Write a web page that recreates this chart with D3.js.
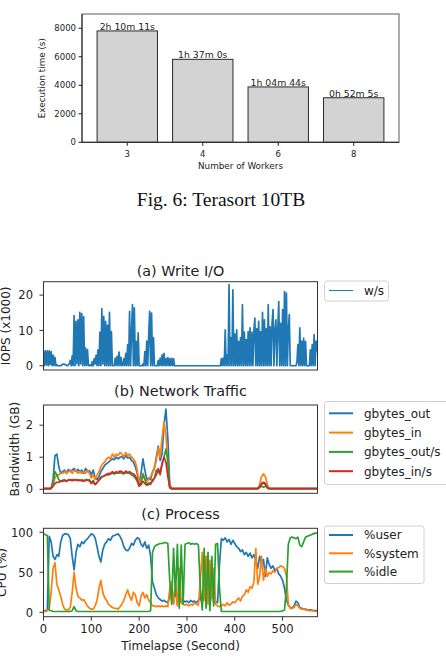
<!DOCTYPE html>
<html>
<head>
<meta charset="utf-8">
<script src="https://cdn.jsdelivr.net/npm/d3@7"></script>
<style>
  body { margin: 0; background: #fff; }
  svg { display: block; }
  text { font-family: "DejaVu Sans", sans-serif; fill: #222; }
</style>
</head>
<body>
<svg id="fig" width="446" height="662"></svg>
<script>
// ---- Fig. 6 bar chart ----
const workers = ["3", "4", "6", "8"];
const execSeconds = [7811, 5820, 3884, 3125];
const execLabels = ["2h 10m 11s", "1h 37m 0s", "1h 04m 44s", "0h 52m 5s"];
const execTicks = [0, 2000, 4000, 6000, 8000];

// ---- (a) write I/O, one sample every 2 s ----
const WRITE_STEP = 2;
const writeIops = [
  4.2, 0, 4.2, 0.2, 4.2, 0, 4.2, 0.3, 4.0, 0,
  3.0, 0, 2.4, 0, 0.3, 0, 0, 0, 0, 0.2,
  0.4, 0.5, 0.4, 0.3, 0.1, 0, 0.2, 0.6, 1.5, 0,
  2.8, 0, 14.2, 0, 12.6, 0.5, 13.0, 0, 15.1, 0.5,
  14.8, 0, 13.9, 0, 5.0, 0, 4.6, 0, 0, 0.3,
  0, 1.2, 0, 2.0, 0.5, 3.0, 0, 4.5, 0, 9.5,
  0, 16.2, 0.5, 14.0, 0, 12.6, 0, 11.5, 0, 15.1,
  0, 9.7, 0, 0, 0, 2.2, 0, 2.7, 0, 3.9,
  0, 2.4, 0, 0.2, 2.0, 0, 3.5, 0, 6.0, 0,
  15.4, 0, 9.0, 17.3, 0, 16.4, 0, 6.9, 0, 9.3,
  0, 0, 0, 0, 0.5, 0, 4.0, 0, 7.0, 0,
  8.5, 15.4, 0, 14.9, 0, 8.0, 0, 0, 0, 0,
  1.5, 0, 2.2, 0, 3.1, 0, 3.5, 0, 2.0, 0,
  2.3, 0, 2.0, 0, 2.1, 0, 2.0, 0, 0, 0,
  0, 0, 0, 0, 0, 0, 0, 0, 0, 0,
  0, 0, 0, 0, 0, 0, 0, 0, 0, 0,
  0, 0, 0, 0, 0, 0, 0, 0, 0, 0,
  0, 0, 0, 0, 0, 0, 0, 0, 0, 0,
  0, 0, 0, 0, 0, 0, 2.0, 0, 2.2, 0,
  10.2, 0, 3.0, 0, 23.0, 0, 8.0, 0, 21.5, 0,
  9.0, 0, 10.2, 0, 6.9, 0, 8.0, 0, 17.3, 0,
  9.5, 0, 7.4, 0, 9.7, 0, 10.7, 0, 9.5, 0,
  10.0, 13.5, 0, 10.5, 0, 12.6, 0, 9.7, 0, 15.1,
  0, 13.0, 0, 10.5, 0, 17.3, 0, 11.0, 0, 12.0,
  15.9, 0, 10.0, 13.0, 0, 10.5, 18.2, 0, 12.0, 0,
  15.9, 0, 21.0, 0, 20.6, 0, 10.0, 14.5, 0, 0,
  0, 0, 0, 0, 0, 1.0, 6.0, 0, 10.7, 0,
  7.0, 0, 7.8, 0, 6.9, 0, 0, 0, 0, 4.5,
  0, 6.0, 0, 8.8, 0, 7.0, 4.0
];

// ---- (b) network traffic, one sample every 4 s ----
const NET_STEP = 4;
const gbytesOut = [
  0.02, 0.02, 0.02, 0.02, 0.03, 0.3, 1.05, 1.1, 0.7, 0.5,
  0.55, 0.6, 0.5, 0.62, 0.55, 0.6, 0.65, 0.55, 0.62, 0.55,
  0.6, 0.5, 0.65, 0.55, 0.58, 0.45, 0.6, 0.35, 0.3, 0.4,
  0.55, 0.65, 0.75, 0.8, 0.85, 0.9, 0.95, 0.92, 1.0, 0.95,
  1.0, 1.02, 0.95, 1.05, 0.98, 1.0, 0.9, 0.85, 0.7, 0.5,
  0.15, 0.5, 0.95, 0.6, 0.3, 0.35, 0.3, 0.55, 0.65, 1.0,
  1.35, 0.9, 1.1, 2.0, 2.5, 1.6, 0.15, 0.02, 0.02, 0.02,
  0.02, 0.02, 0.02, 0.02, 0.02, 0.02, 0.02, 0.02, 0.02, 0.02,
  0.02, 0.02, 0.02, 0.02, 0.02, 0.02, 0.02, 0.02, 0.02, 0.02,
  0.02, 0.02, 0.02, 0.02, 0.02, 0.02, 0.02, 0.02, 0.02, 0.02,
  0.02, 0.02, 0.02, 0.02, 0.02, 0.02, 0.02, 0.02, 0.02, 0.02,
  0.02, 0.02, 0.02, 0.08, 0.15, 0.2, 0.15, 0.05, 0.02, 0.02,
  0.02, 0.02, 0.02, 0.02, 0.02, 0.02, 0.02, 0.02, 0.02, 0.02,
  0.02, 0.02, 0.02, 0.02, 0.02, 0.02, 0.02, 0.02, 0.02, 0.02,
  0.02, 0.02, 0.02, 0.02
];
const gbytesIn = [
  0.02, 0.02, 0.02, 0.02, 0.03, 0.15, 0.35, 0.45, 0.45, 0.5,
  0.5, 0.55, 0.5, 0.55, 0.6, 0.5, 0.58, 0.6, 0.5, 0.55,
  0.5, 0.55, 0.5, 0.6, 0.5, 0.35, 0.45, 0.3, 0.45, 0.55,
  0.7, 0.8, 0.85, 0.95, 1.0, 0.95, 1.1, 1.0, 1.1, 1.05,
  1.15, 1.1, 1.0, 1.15, 1.05, 1.1, 1.0, 0.95, 0.85, 0.6,
  0.2, 0.3, 0.5, 0.35, 0.25, 0.3, 0.4, 0.5, 0.7, 0.9,
  1.3, 1.0, 1.6, 2.1, 1.7, 0.8, 0.1, 0.02, 0.02, 0.02,
  0.02, 0.02, 0.02, 0.02, 0.02, 0.02, 0.02, 0.02, 0.02, 0.02,
  0.02, 0.02, 0.02, 0.02, 0.02, 0.02, 0.02, 0.02, 0.02, 0.02,
  0.02, 0.02, 0.02, 0.02, 0.02, 0.02, 0.02, 0.02, 0.02, 0.02,
  0.02, 0.02, 0.02, 0.02, 0.02, 0.02, 0.02, 0.02, 0.02, 0.02,
  0.02, 0.02, 0.02, 0.15, 0.4, 0.48, 0.4, 0.15, 0.02, 0.02,
  0.02, 0.02, 0.02, 0.02, 0.02, 0.02, 0.02, 0.02, 0.02, 0.02,
  0.02, 0.02, 0.02, 0.02, 0.02, 0.02, 0.02, 0.02, 0.02, 0.02,
  0.02, 0.02, 0.02, 0.02
];
const gbytesOutPerSec = [
  0.02, 0.02, 0.02, 0.02, 0.03, 0.2, 0.55, 0.45, 0.3, 0.25,
  0.28, 0.3, 0.25, 0.3, 0.28, 0.3, 0.3, 0.28, 0.3, 0.28,
  0.3, 0.25, 0.3, 0.28, 0.3, 0.2, 0.28, 0.15, 0.2, 0.3,
  0.38, 0.4, 0.42, 0.45, 0.45, 0.48, 0.5, 0.48, 0.5, 0.5,
  0.52, 0.5, 0.48, 0.52, 0.5, 0.5, 0.45, 0.42, 0.35, 0.25,
  0.1, 0.2, 0.45, 0.3, 0.15, 0.2, 0.15, 0.3, 0.35, 0.6,
  0.55, 0.45, 0.8, 1.0, 1.25, 0.9, 0.05, 0.02, 0.02, 0.02,
  0.02, 0.02, 0.02, 0.02, 0.02, 0.02, 0.02, 0.02, 0.02, 0.02,
  0.02, 0.02, 0.02, 0.02, 0.02, 0.02, 0.02, 0.02, 0.02, 0.02,
  0.02, 0.02, 0.02, 0.02, 0.02, 0.02, 0.02, 0.02, 0.02, 0.02,
  0.02, 0.02, 0.02, 0.02, 0.02, 0.02, 0.02, 0.02, 0.02, 0.02,
  0.02, 0.02, 0.02, 0.05, 0.1, 0.06, 0.1, 0.04, 0.02, 0.02,
  0.02, 0.02, 0.02, 0.02, 0.02, 0.02, 0.02, 0.02, 0.02, 0.02,
  0.02, 0.02, 0.02, 0.02, 0.02, 0.02, 0.02, 0.02, 0.02, 0.02,
  0.02, 0.02, 0.02, 0.02
];
const gbytesInPerSec = [
  0.02, 0.02, 0.02, 0.02, 0.03, 0.1, 0.18, 0.22, 0.22, 0.25,
  0.25, 0.27, 0.25, 0.28, 0.3, 0.27, 0.29, 0.3, 0.27, 0.28,
  0.26, 0.28, 0.27, 0.3, 0.26, 0.18, 0.23, 0.15, 0.22, 0.28,
  0.35, 0.4, 0.43, 0.47, 0.5, 0.48, 0.55, 0.5, 0.55, 0.52,
  0.57, 0.55, 0.5, 0.57, 0.52, 0.55, 0.5, 0.48, 0.42, 0.3,
  0.1, 0.15, 0.25, 0.18, 0.13, 0.15, 0.2, 0.25, 0.35, 0.45,
  0.65, 0.5, 0.8, 1.0, 0.85, 0.4, 0.05, 0.02, 0.02, 0.02,
  0.02, 0.02, 0.02, 0.02, 0.02, 0.02, 0.02, 0.02, 0.02, 0.02,
  0.02, 0.02, 0.02, 0.02, 0.02, 0.02, 0.02, 0.02, 0.02, 0.02,
  0.02, 0.02, 0.02, 0.02, 0.02, 0.02, 0.02, 0.02, 0.02, 0.02,
  0.02, 0.02, 0.02, 0.02, 0.02, 0.02, 0.02, 0.02, 0.02, 0.02,
  0.02, 0.02, 0.02, 0.08, 0.18, 0.22, 0.18, 0.06, 0.02, 0.02,
  0.02, 0.02, 0.02, 0.02, 0.02, 0.02, 0.02, 0.02, 0.02, 0.02,
  0.02, 0.02, 0.02, 0.02, 0.02, 0.02, 0.02, 0.02, 0.02, 0.02,
  0.02, 0.02, 0.02, 0.02
];

// ---- (c) CPU, one sample every 4 s ----
const CPU_STEP = 4;
const cpuUser = [
  2, 2, 3, 95, 88, 70, 66, 72, 70, 88,
  96, 98, 98, 97, 92, 70, 53, 75, 85, 82,
  88, 86, 90, 92, 95, 98, 97, 93, 82, 70,
  63, 78, 85, 88, 92, 90, 95, 96, 97, 98,
  95, 90, 82, 78, 77, 80, 86, 84, 90, 93,
  92, 85, 82, 88, 80, 84, 70, 38, 30, 22,
  18, 16, 14, 15, 13, 12, 20, 35, 12, 30,
  10, 25, 12, 15, 13, 14, 12, 15, 13, 14,
  12, 15, 20, 10, 35, 12, 40, 8, 30, 12,
  13, 12, 60, 92, 90, 93, 88, 91, 85, 90,
  86, 82, 80, 76, 78, 72, 75, 70, 74, 68,
  72, 65, 55, 70, 60, 66, 45, 68, 60, 55,
  58, 52, 55, 48, 45, 40, 30, 15, 9, 6,
  5, 8, 14, 12, 6, 5, 4, 4, 3, 3,
  3, 2, 2, 2
];
const cpuSystem = [
  1, 1, 2, 5, 25, 55, 62, 35, 28, 20,
  10, 4, 3, 3, 6, 25, 50, 30, 20, 18,
  15, 16, 12, 8, 5, 4, 4, 8, 15, 30,
  40, 25, 18, 15, 10, 8, 6, 5, 5, 4,
  7, 10, 15, 22, 28, 20, 15, 25, 22, 12,
  8, 20, 25, 18, 22, 15, 12, 8, 8, 7,
  8, 7, 8, 7, 8, 7, 30, 38, 10, 35,
  8, 55, 12, 10, 9, 10, 8, 10, 9, 12,
  10, 9, 40, 75, 15, 70, 10, 65, 20, 55,
  10, 8, 7, 8, 10, 8, 12, 9, 10, 13,
  12, 15, 18, 14, 20, 22, 28, 25, 32, 30,
  38, 80, 35, 45, 70, 40, 55, 45, 50, 48,
  52, 50, 55, 56, 58, 57, 55, 45, 10, 5,
  5, 6, 10, 8, 5, 4, 4, 3, 3, 2,
  2, 2, 1, 1
];
const cpuIdle = [
  98, 97, 96, 3, 2, 1, 1, 1, 1, 1,
  1, 1, 1, 1, 1, 2, 7, 2, 1, 1,
  1, 1, 1, 1, 1, 1, 1, 1, 1, 1,
  1, 1, 1, 1, 1, 1, 1, 1, 1, 1,
  1, 1, 1, 1, 1, 1, 1, 1, 1, 1,
  1, 1, 1, 1, 1, 1, 2, 75, 82, 84,
  85, 86, 86, 87, 87, 86, 40, 10, 80, 20,
  85, 5, 84, 10, 85, 86, 87, 85, 86, 85,
  86, 84, 30, 3, 80, 5, 75, 2, 70, 8,
  85, 86, 30, 1, 1, 1, 1, 1, 1, 1,
  1, 1, 1, 1, 1, 1, 1, 1, 1, 1,
  1, 1, 1, 1, 1, 1, 1, 1, 1, 1,
  1, 1, 1, 1, 1, 2, 3, 30, 85, 93,
  94, 93, 92, 94, 84, 82, 88, 94, 95, 96,
  97, 98, 99, 99
];
const timeTicks = [0, 100, 200, 300, 400, 500];
const TIME_MAX = 573;

const C = { blue: "#1f77b4", orange: "#ff7f0e", green: "#2ca02c", red: "#d62728" };
const svg = d3.select("#fig");

// ================= bar chart =================
(function drawBars() {
  const L = 82, R = 399, T = 14, B = 142.3;
  const x = d3.scaleBand().domain(workers).range([L, R]).paddingInner(0.2).paddingOuter(0.2);
  const y = d3.scaleLinear().domain([0, 9000]).range([B, T]);
  const g = svg.append("g");

  g.selectAll("rect.bar").data(execSeconds).enter().append("rect")
    .attr("x", (d, i) => x(workers[i]))
    .attr("y", d => y(d))
    .attr("width", x.bandwidth())
    .attr("height", d => B - y(d))
    .attr("fill", "#d3d3d3")
    .attr("stroke", "#2a2a2a")
    .attr("stroke-width", 1);

  g.selectAll("text.blab").data(execLabels).enter().append("text")
    .attr("x", (d, i) => x(workers[i]) + x.bandwidth() / 2)
    .attr("y", (d, i) => y(execSeconds[i]) - 1)
    .attr("text-anchor", "middle")
    .style("font-size", "9.3px")
    .text(d => d);

  // frame
  g.append("rect").attr("x", L).attr("y", T).attr("width", R - L).attr("height", B - T)
    .attr("fill", "none").attr("stroke", "#777").attr("stroke-width", 1.2);
  g.append("line").attr("x1", L).attr("x2", L).attr("y1", T).attr("y2", B).attr("stroke", "#222");
  g.append("line").attr("x1", L).attr("x2", R).attr("y1", B).attr("y2", B).attr("stroke", "#222");

  execTicks.forEach(v => {
    g.append("line").attr("x1", L - 3.5).attr("x2", L).attr("y1", y(v)).attr("y2", y(v)).attr("stroke", "#222");
    g.append("text").attr("x", L - 6).attr("y", y(v) + 3).attr("text-anchor", "end")
      .style("font-size", "8.5px").text(v);
  });
  workers.forEach(w => {
    const cx = x(w) + x.bandwidth() / 2;
    g.append("line").attr("x1", cx).attr("x2", cx).attr("y1", B).attr("y2", B + 3.5).attr("stroke", "#222");
    g.append("text").attr("x", cx).attr("y", 157).attr("text-anchor", "middle")
      .style("font-size", "8.5px").text(w);
  });
  g.append("text").attr("x", (L + R) / 2).attr("y", 169).attr("text-anchor", "middle")
    .style("font-size", "8.8px").text("Number of Workers");
  g.append("text").attr("transform", `translate(45,${(T + B) / 2}) rotate(-90)`)
    .attr("text-anchor", "middle").style("font-size", "8.8px").text("Execution time (s)");

  svg.append("text").attr("x", 221).attr("y", 206).attr("text-anchor", "middle")
    .style("font-family", "'Liberation Serif', serif").style("font-size", "19.5px").style("fill", "#111")
    .text("Fig. 6: Terasort 10TB");
})();

// ================= time series panels =================
const AX_L = 43.5, AX_R = 317.5;
const xTime = d3.scaleLinear().domain([0, TIME_MAX]).range([AX_L, AX_R]);

function drawPanel(p) {
  const y = d3.scaleLinear().domain(p.yDomain).range([p.bottom, p.top]);
  const g = svg.append("g");
  const clipId = "clip-" + p.id;
  svg.append("clipPath").attr("id", clipId).append("rect")
    .attr("x", AX_L).attr("y", p.top).attr("width", AX_R - AX_L).attr("height", p.bottom - p.top);

  const plot = g.append("g").attr("clip-path", `url(#${clipId})`);
  p.series.forEach(s => {
    const line = d3.line().x((d, i) => xTime(i * s.step)).y(d => y(d));
    plot.append("path").datum(s.values).attr("d", line)
      .attr("fill", "none").attr("stroke", s.color).attr("stroke-width", s.width)
      .attr("stroke-linejoin", "round");
  });

  g.append("rect").attr("x", AX_L).attr("y", p.top).attr("width", AX_R - AX_L).attr("height", p.bottom - p.top)
    .attr("fill", "none").attr("stroke", "#333").attr("stroke-width", 1);

  p.yTicks.forEach(v => {
    g.append("line").attr("x1", AX_L - 4).attr("x2", AX_L).attr("y1", y(v)).attr("y2", y(v)).attr("stroke", "#333");
    g.append("text").attr("x", AX_L - 10.5).attr("y", y(v) + 4.2).attr("text-anchor", "end")
      .style("font-size", "11.5px").text(v);
  });

  g.append("text").attr("x", (AX_L + AX_R) / 2).attr("y", p.titleY).attr("text-anchor", "middle")
    .style("font-size", "14.4px").text(p.title);

  g.append("text").attr("transform", `translate(${p.ylabelX},${(p.top + p.bottom) / 2}) rotate(-90)`)
    .attr("text-anchor", "middle").style("font-size", "12px").text(p.ylabel);

  // legend
  const lg = g.append("g");
  lg.append("rect").attr("x", 324.5).attr("y", p.legend.y).attr("width", p.legend.w).attr("height", p.legend.h)
    .attr("rx", 2.5).attr("fill", "#fff").attr("stroke", "#d0d0d0").attr("stroke-width", 1);
  p.series.forEach((s, i) => {
    const ly = p.legend.first + i * p.legend.step;
    lg.append("line").attr("x1", 329).attr("x2", 353).attr("y1", ly).attr("y2", ly)
      .attr("stroke", s.color).attr("stroke-width", s.legendWidth);
    lg.append("text").attr("x", 364).attr("y", ly + 4.3).style("font-size", "12px").text(s.name);
  });

  return y;
}

drawPanel({
  id: "a", top: 281.7, bottom: 370, yDomain: [-1.2, 23.8], yTicks: [0, 10, 20],
  title: "(a) Write I/O", titleY: 275.5, ylabel: "IOPS (x1000)", ylabelX: 10,
  legend: { y: 281, w: 64, h: 20, first: 290.5, step: 0 },
  series: [{ name: "w/s", values: writeIops, step: WRITE_STEP, color: C.blue, width: 1.7, legendWidth: 1 }]
});

drawPanel({
  id: "b", top: 405, bottom: 493.3, yDomain: [-0.125, 2.63], yTicks: [0, 1, 2],
  title: "(b) Network Traffic", titleY: 396, ylabel: "Bandwidth (GB)", ylabelX: 19,
  legend: { y: 401.5, w: 126, h: 83, first: 413.3, step: 19.3 },
  series: [
    { name: "gbytes_out", values: gbytesOut, step: NET_STEP, color: C.blue, width: 1.7, legendWidth: 2 },
    { name: "gbytes_in", values: gbytesIn, step: NET_STEP, color: C.orange, width: 1.7, legendWidth: 2 },
    { name: "gbytes_out/s", values: gbytesOutPerSec, step: NET_STEP, color: C.green, width: 1.7, legendWidth: 2 },
    { name: "gbytes_in/s", values: gbytesInPerSec, step: NET_STEP, color: C.red, width: 1.7, legendWidth: 2 }
  ]
});

drawPanel({
  id: "c", top: 528.3, bottom: 616.7, yDomain: [-5.5, 105], yTicks: [0, 50, 100],
  title: "(c) Process", titleY: 519, ylabel: "CPU (%)", ylabelX: 6,
  legend: { y: 526, w: 99.5, h: 57.5, first: 535, step: 18.3 },
  series: [
    { name: "%user", values: cpuUser, step: CPU_STEP, color: C.blue, width: 1.7, legendWidth: 2 },
    { name: "%system", values: cpuSystem, step: CPU_STEP, color: C.orange, width: 1.7, legendWidth: 2 },
    { name: "%idle", values: cpuIdle, step: CPU_STEP, color: C.green, width: 1.7, legendWidth: 2 }
  ]
});

// shared time axis under panel (c)
(function timeAxis() {
  const g = svg.append("g");
  const B = 616.7;
  timeTicks.forEach(v => {
    g.append("line").attr("x1", xTime(v)).attr("x2", xTime(v)).attr("y1", B).attr("y2", B + 4).attr("stroke", "#333");
    g.append("text").attr("x", xTime(v)).attr("y", 632.5).attr("text-anchor", "middle")
      .style("font-size", "11.5px").text(v);
  });
  g.append("text").attr("x", (AX_L + AX_R) / 2).attr("y", 650).attr("text-anchor", "middle")
    .style("font-size", "12px").text("Timelapse (Second)");
})();
</script>
</body>
</html>
